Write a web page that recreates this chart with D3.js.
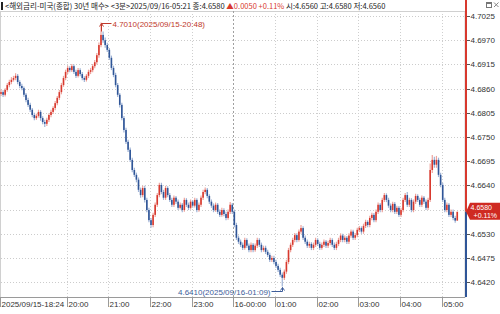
<!DOCTYPE html>
<html>
<head>
<meta charset="utf-8">
<script src="https://cdn.jsdelivr.net/npm/d3@7"></script>
<style>
  html, body { margin: 0; padding: 0; background: #fff; }
  svg { display: block; font-family: "Liberation Sans", Arial, sans-serif; }
</style>
</head>
<body>
<svg id="chart" width="500" height="314"></svg>
<script>
'use strict';

// 3-minute bars, 2025/09/15 18:24 -> 2025/09/16 05:21
const startTime = new Date(2025, 8, 15, 18, 24);
const firstOpen = 4.6848;

const closes = [
  4.6852, 4.6846, 4.6857, 4.6868, 4.6875, 4.6880, 4.6884, 4.6889, 4.6875, 4.6866,
  4.6861, 4.6846, 4.6834, 4.6823, 4.6812, 4.6800, 4.6793, 4.6798, 4.6807, 4.6793,
  4.6784, 4.6780, 4.6789, 4.6800, 4.6807, 4.6816, 4.6827, 4.6839, 4.6852, 4.6868,
  4.6884, 4.6898, 4.6907, 4.6902, 4.6911, 4.6898, 4.6889, 4.6902, 4.6893, 4.6884,
  4.6880, 4.6889, 4.6898, 4.6902, 4.6911, 4.6920, 4.6936, 4.6959, 4.6982, 4.6970,
  4.6959, 4.6948, 4.6930, 4.6907, 4.6891, 4.6868, 4.6846, 4.6823, 4.6793, 4.6766,
  4.6739, 4.6721, 4.6698, 4.6675, 4.6664, 4.6653, 4.6630, 4.6618, 4.6634, 4.6607,
  4.6584, 4.6561, 4.6550, 4.6573, 4.6596, 4.6618, 4.6641, 4.6625, 4.6612, 4.6634,
  4.6618, 4.6607, 4.6596, 4.6612, 4.6603, 4.6589, 4.6596, 4.6584, 4.6607, 4.6596,
  4.6589, 4.6603, 4.6594, 4.6607, 4.6584, 4.6596, 4.6612, 4.6625, 4.6630, 4.6616,
  4.6603, 4.6594, 4.6584, 4.6596, 4.6580, 4.6573, 4.6584, 4.6575, 4.6566, 4.6580,
  4.6596, 4.6580, 4.6550, 4.6521, 4.6512, 4.6505, 4.6498, 4.6516, 4.6503, 4.6493,
  4.6505, 4.6493, 4.6503, 4.6516, 4.6505, 4.6493, 4.6498, 4.6489, 4.6482, 4.6471,
  4.6475, 4.6466, 4.6457, 4.6448, 4.6437, 4.6430, 4.6444, 4.6466, 4.6493, 4.6505,
  4.6516, 4.6527, 4.6516, 4.6535, 4.6543, 4.6521, 4.6512, 4.6503, 4.6507, 4.6498,
  4.6505, 4.6516, 4.6507, 4.6498, 4.6505, 4.6512, 4.6503, 4.6509, 4.6516, 4.6505,
  4.6498, 4.6507, 4.6516, 4.6526, 4.6516, 4.6521, 4.6512, 4.6526, 4.6535, 4.6521,
  4.6527, 4.6539, 4.6543, 4.6535, 4.6548, 4.6557, 4.6550, 4.6566, 4.6573, 4.6561,
  4.6580, 4.6596, 4.6584, 4.6607, 4.6618, 4.6607, 4.6594, 4.6584, 4.6598, 4.6580,
  4.6589, 4.6573, 4.6584, 4.6607, 4.6618, 4.6596, 4.6607, 4.6584, 4.6603, 4.6616,
  4.6607, 4.6596, 4.6612, 4.6603, 4.6589, 4.6607, 4.6675, 4.6698, 4.6687, 4.6698,
  4.6664, 4.6641, 4.6607, 4.6584, 4.6596, 4.6573, 4.6580, 4.6566, 4.6560, 4.6580
];

const highs = [
  4.6858, 4.6856, 4.6861, 4.6873, 4.6880, 4.6886, 4.6889, 4.6895, 4.6893, 4.6879,
  4.6871, 4.6865, 4.6850, 4.6839, 4.6828, 4.6816, 4.6805, 4.6803, 4.6812, 4.6811,
  4.6797, 4.6789, 4.6794, 4.6804, 4.6812, 4.6820, 4.6832, 4.6843, 4.6857, 4.6873,
  4.6889, 4.6903, 4.6912, 4.6911, 4.6916, 4.6915, 4.6903, 4.6907, 4.6906, 4.6898,
  4.6888, 4.6893, 4.6903, 4.6907, 4.6916, 4.6925, 4.6941, 4.6965, 4.7010, 4.6990,
  4.6976, 4.6964, 4.6952, 4.6935, 4.6912, 4.6896, 4.6873, 4.6850, 4.6828, 4.6798,
  4.6771, 4.6744, 4.6726, 4.6703, 4.6680, 4.6669, 4.6658, 4.6635, 4.6639, 4.6639,
  4.6612, 4.6589, 4.6566, 4.6578, 4.6601, 4.6623, 4.6646, 4.6646, 4.6630, 4.6639,
  4.6638, 4.6623, 4.6612, 4.6617, 4.6616, 4.6608, 4.6601, 4.6600, 4.6612, 4.6611,
  4.6601, 4.6608, 4.6607, 4.6612, 4.6611, 4.6601, 4.6617, 4.6630, 4.6635, 4.6634,
  4.6620, 4.6608, 4.6599, 4.6601, 4.6600, 4.6585, 4.6589, 4.6588, 4.6580, 4.6585,
  4.6602, 4.6600, 4.6585, 4.6555, 4.6526, 4.6517, 4.6510, 4.6521, 4.6520, 4.6508,
  4.6510, 4.6509, 4.6508, 4.6521, 4.6520, 4.6510, 4.6503, 4.6503, 4.6494, 4.6487,
  4.6480, 4.6480, 4.6471, 4.6462, 4.6453, 4.6442, 4.6449, 4.6471, 4.6498, 4.6510,
  4.6521, 4.6532, 4.6531, 4.6540, 4.6550, 4.6547, 4.6526, 4.6517, 4.6512, 4.6511,
  4.6510, 4.6521, 4.6520, 4.6512, 4.6510, 4.6517, 4.6516, 4.6514, 4.6521, 4.6520,
  4.6510, 4.6512, 4.6521, 4.6531, 4.6530, 4.6526, 4.6525, 4.6531, 4.6540, 4.6539,
  4.6532, 4.6544, 4.6548, 4.6547, 4.6553, 4.6562, 4.6561, 4.6571, 4.6578, 4.6577,
  4.6585, 4.6601, 4.6600, 4.6612, 4.6623, 4.6622, 4.6612, 4.6599, 4.6603, 4.6602,
  4.6594, 4.6593, 4.6589, 4.6612, 4.6623, 4.6625, 4.6612, 4.6611, 4.6608, 4.6621,
  4.6620, 4.6612, 4.6617, 4.6616, 4.6608, 4.6612, 4.6690, 4.6709, 4.6705, 4.6707,
  4.6703, 4.6669, 4.6646, 4.6612, 4.6601, 4.6600, 4.6585, 4.6585, 4.6571, 4.6580
];

const lows = [
  4.6843, 4.6841, 4.6842, 4.6853, 4.6863, 4.6870, 4.6876, 4.6879, 4.6870, 4.6861,
  4.6856, 4.6841, 4.6829, 4.6818, 4.6807, 4.6795, 4.6788, 4.6789, 4.6794, 4.6787,
  4.6779, 4.6773, 4.6775, 4.6784, 4.6795, 4.6802, 4.6811, 4.6822, 4.6834, 4.6847,
  4.6864, 4.6879, 4.6893, 4.6897, 4.6898, 4.6893, 4.6884, 4.6885, 4.6888, 4.6879,
  4.6875, 4.6876, 4.6884, 4.6893, 4.6897, 4.6906, 4.6915, 4.6930, 4.6954, 4.6964,
  4.6953, 4.6943, 4.6925, 4.6902, 4.6886, 4.6863, 4.6841, 4.6817, 4.6788, 4.6760,
  4.6734, 4.6716, 4.6693, 4.6670, 4.6659, 4.6647, 4.6625, 4.6612, 4.6613, 4.6601,
  4.6579, 4.6556, 4.6544, 4.6545, 4.6568, 4.6591, 4.6613, 4.6620, 4.6607, 4.6607,
  4.6613, 4.6602, 4.6591, 4.6591, 4.6598, 4.6584, 4.6585, 4.6579, 4.6580, 4.6591,
  4.6584, 4.6585, 4.6589, 4.6590, 4.6579, 4.6580, 4.6591, 4.6607, 4.6620, 4.6611,
  4.6598, 4.6589, 4.6579, 4.6580, 4.6575, 4.6568, 4.6569, 4.6570, 4.6561, 4.6562,
  4.6575, 4.6575, 4.6545, 4.6516, 4.6507, 4.6500, 4.6493, 4.6494, 4.6498, 4.6488,
  4.6488, 4.6488, 4.6489, 4.6498, 4.6500, 4.6488, 4.6489, 4.6484, 4.6477, 4.6466,
  4.6466, 4.6461, 4.6452, 4.6443, 4.6432, 4.6410, 4.6425, 4.6439, 4.6461, 4.6488,
  4.6500, 4.6511, 4.6511, 4.6512, 4.6530, 4.6516, 4.6507, 4.6498, 4.6498, 4.6493,
  4.6493, 4.6500, 4.6502, 4.6493, 4.6494, 4.6500, 4.6498, 4.6498, 4.6504, 4.6500,
  4.6493, 4.6493, 4.6502, 4.6511, 4.6511, 4.6511, 4.6507, 4.6507, 4.6521, 4.6516,
  4.6516, 4.6522, 4.6534, 4.6530, 4.6530, 4.6543, 4.6545, 4.6545, 4.6561, 4.6556,
  4.6556, 4.6575, 4.6579, 4.6579, 4.6602, 4.6602, 4.6589, 4.6579, 4.6579, 4.6575,
  4.6575, 4.6568, 4.6568, 4.6579, 4.6602, 4.6591, 4.6591, 4.6579, 4.6579, 4.6598,
  4.6602, 4.6591, 4.6591, 4.6598, 4.6584, 4.6584, 4.6602, 4.6668, 4.6680, 4.6680,
  4.6659, 4.6636, 4.6602, 4.6579, 4.6579, 4.6568, 4.6568, 4.6561, 4.6555, 4.6560
];

const yTicks = [4.6420, 4.6475, 4.6530, 4.6585, 4.6640, 4.6695, 4.6750, 4.6805, 4.6860, 4.6915, 4.6970, 4.7025];
const yTickHidden = [4.6585]; // covered by the current price box
const xTickLabels = ['20:00', '21:00', '22:00', '23:00', '16-00:00', '01:00', '02:00', '03:00', '04:00', '05:00'];
const firstTimeLabel = '2025/09/15-18:24';

const headerTitle = '<해외금리-미국(종합) 30년 매수> <3분>2025/09/16-05:21 종:4.6580';
const headerChange = '▲0.0050 +0.11%';
const headerOHL = '시:4.6560 고:4.6580 저:4.6560';
const lastPrice = 4.6580;
const lastChangePct = '+0.11%';
const highNote = '4.7010(2025/09/15-20:48)';
const lowNote = '4.6410(2025/09/16-01:09)';

const RED = '#d8392e', BLUE = '#2f5597';
const RED_LIGHT = '#eea39c', BLUE_LIGHT = '#9fb3d6';

// Build bars
const bars = closes.map((c, i) => ({
  t: d3.timeMinute.offset(startTime, 3 * i),
  o: i === 0 ? firstOpen : closes[i - 1],
  h: highs[i],
  l: lows[i],
  c: c
}));

const svg = d3.select('#chart');
const plot = { left: 0, right: 465, top: 11, bottom: 297 };

const x = d3.scaleTime()
  .domain([startTime, d3.timeMinute.offset(startTime, 670)])
  .range([0, 465.3]);
const y = d3.scaleLinear()
  .domain([4.6420, 4.7025])
  .range([282.2, 16]);

// Frame
svg.append('rect')
  .attr('x', 0.5).attr('y', plot.top + 0.5)
  .attr('width', plot.right - 0.5).attr('height', plot.bottom - plot.top)
  .attr('fill', 'none').attr('stroke', '#d0d0d0');

// Horizontal grid
svg.append('g').selectAll('line')
  .data(yTicks)
  .join('line')
  .attr('x1', 1).attr('x2', plot.right)
  .attr('y1', d => Math.round(y(d)) + 0.5).attr('y2', d => Math.round(y(d)) + 0.5)
  .attr('stroke', '#cccccc').attr('stroke-dasharray', '1,2');

// Vertical grid at each hour
const hourTicks = d3.timeHour.range(new Date(2025, 8, 15, 20), new Date(2025, 8, 16, 5, 1));
svg.append('g').selectAll('line')
  .data(hourTicks)
  .join('line')
  .attr('x1', d => Math.round(x(d)) + 0.5).attr('x2', d => Math.round(x(d)) + 0.5)
  .attr('y1', plot.top).attr('y2', plot.bottom)
  .attr('stroke', d => d.getHours() === 0 ? '#a0a0a0' : '#cfcfcf')
  .attr('stroke-dasharray', d => d.getHours() === 0 ? '2,2' : '1,2');

// Candles
const candles = svg.append('g').selectAll('g')
  .data(bars)
  .join('g');

candles.append('line')
  .attr('x1', d => x(d.t) + 1).attr('x2', d => x(d.t) + 1)
  .attr('y1', d => y(d.h)).attr('y2', d => y(d.l))
  .attr('stroke', d => d.c >= d.o ? RED_LIGHT : BLUE_LIGHT)
  .attr('stroke-width', 1.2);

candles.append('rect')
  .attr('x', d => x(d.t) + 0.2)
  .attr('width', 1.6)
  .attr('y', d => y(Math.max(d.o, d.c)))
  .attr('height', d => Math.max(1, Math.abs(y(d.o) - y(d.c))))
  .attr('fill', d => d.c >= d.o ? RED : BLUE);

// High / low annotations
const hiBar = bars.reduce((a, b) => b.h > a.h ? b : a);
const loBar = bars.reduce((a, b) => b.l < a.l ? b : a);
const hx = Math.round(x(hiBar.t) + 1) + 0.5, hy = Math.round(y(hiBar.h)) + 0.5;
svg.append('path')
  .attr('d', `M${hx},${hy + 8}V${hy}H${hx + 10}`)
  .attr('fill', 'none').attr('stroke', '#c0392b');
svg.append('path')
  .attr('d', `M${hx - 2},${hy + 3}L${hx},${hy}L${hx + 2},${hy + 3}`)
  .attr('fill', 'none').attr('stroke', '#c0392b');
svg.append('text')
  .attr('x', hx + 11).attr('y', hy + 3)
  .attr('font-size', 8).attr('fill', '#c0392b')
  .text(highNote);

const lx = Math.round(x(loBar.t) + 1) + 0.5, ly = Math.round(y(loBar.l)) + 0.5;
svg.append('path')
  .attr('d', `M${lx},${ly}V${ly + 4}H${lx - 11}`)
  .attr('fill', 'none').attr('stroke', '#3d5d9a');
svg.append('path')
  .attr('d', `M${lx - 2},${ly + 3}L${lx},${ly}L${lx + 2},${ly + 3}`)
  .attr('fill', 'none').attr('stroke', '#3d5d9a');
svg.append('text')
  .attr('x', lx - 12).attr('y', ly + 7)
  .attr('text-anchor', 'end')
  .attr('font-size', 8).attr('fill', '#3d5d9a')
  .text(lowNote);

// Bottom axis
svg.append('line')
  .attr('x1', 0).attr('x2', plot.right)
  .attr('y1', plot.bottom + 0.5).attr('y2', plot.bottom + 0.5)
  .attr('stroke', '#9a9a9a');
const xAxis = svg.append('g').attr('font-size', 8).attr('fill', '#333');
const xTickData = [{ t: startTime, label: firstTimeLabel }]
  .concat(hourTicks.map((t, i) => ({ t: t, label: xTickLabels[i] })));
xAxis.selectAll('line')
  .data(xTickData)
  .join('line')
  .attr('x1', d => Math.round(x(d.t)) + 0.5).attr('x2', d => Math.round(x(d.t)) + 0.5)
  .attr('y1', plot.bottom).attr('y2', plot.bottom + 10)
  .attr('stroke', '#9a9a9a');
xAxis.selectAll('text')
  .data(xTickData)
  .join('text')
  .attr('x', d => Math.round(x(d.t)) + 1.5)
  .attr('y', plot.bottom + 10)
  .text(d => d.label);

// Right axis line: red above the last price, blue below
svg.append('line')
  .attr('x1', plot.right + 1).attr('x2', plot.right + 1)
  .attr('y1', 0).attr('y2', y(lastPrice))
  .attr('stroke', RED).attr('stroke-width', 2);
svg.append('line')
  .attr('x1', plot.right + 1).attr('x2', plot.right + 1)
  .attr('y1', y(lastPrice)).attr('y2', plot.bottom)
  .attr('stroke', BLUE).attr('stroke-width', 2);

const yAxis = svg.append('g').attr('font-size', 8).attr('fill', '#333');
const shownY = yTicks.filter(v => !yTickHidden.includes(v));
yAxis.selectAll('line')
  .data(shownY)
  .join('line')
  .attr('x1', plot.right + 2).attr('x2', plot.right + 5)
  .attr('y1', d => Math.round(y(d)) + 0.5).attr('y2', d => Math.round(y(d)) + 0.5)
  .attr('stroke', '#555');
yAxis.selectAll('text')
  .data(shownY)
  .join('text')
  .attr('x', plot.right + 5.5)
  .attr('y', d => y(d) + 3)
  .text(d => d.toFixed(4));

// Current price box
const py = y(lastPrice);
svg.append('path')
  .attr('d', `M${plot.right + 1},${py}L${plot.right + 5},${py - 9}H500V${py + 8}H${plot.right + 5}Z`)
  .attr('fill', '#cf2a22');
svg.append('text')
  .attr('x', 492).attr('y', py - 2).attr('text-anchor', 'end')
  .attr('font-size', 7).attr('fill', '#fff')
  .text(lastPrice.toFixed(4));
svg.append('text')
  .attr('x', 497).attr('y', py + 6.5).attr('text-anchor', 'end')
  .attr('font-size', 7).attr('fill', '#fff')
  .text(lastChangePct);

// Header: one line, three coloured runs. Font size is fitted so the
// natural run fills the same width as the reference header (~381px).
svg.append('rect').attr('x', 1).attr('y', 2).attr('width', 2).attr('height', 8).attr('fill', '#222');
const header = svg.append('text')
  .attr('x', 5).attr('y', 9)
  .attr('font-family', '"Liberation Sans Narrow", "Noto Sans CJK KR", sans-serif')
  .attr('font-size', 9);
header.append('tspan').attr('fill', '#222').text(headerTitle + ' ');
header.append('tspan').attr('fill', RED).text(headerChange + ' ');
header.append('tspan').attr('fill', '#222').text(headerOHL);
const headerLen = header.node().getComputedTextLength();
header.attr('font-size', Math.min(10, 9 * 381 / headerLen));

// Window buttons
svg.append('rect').attr('x', 486.5).attr('y', 2.5).attr('width', 5).attr('height', 5)
  .attr('fill', '#fff').attr('stroke', '#777');
svg.append('rect').attr('x', 486.5).attr('y', 2.5).attr('width', 5).attr('height', 1.5).attr('fill', '#777');
svg.append('path').attr('d', 'M494,2.5L498.5,7M498.5,2.5L494,7')
  .attr('stroke', '#888').attr('fill', 'none');
</script>
</body>
</html>
